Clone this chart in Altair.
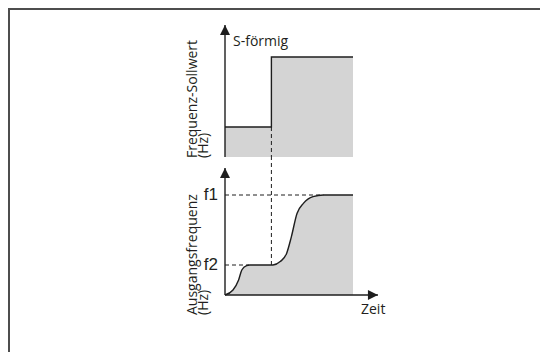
import altair as alt
import pandas as pd

# ---------------- data ----------------
# Top panel: frequency setpoint (step)
soll_t = [0, 2.9, 8]
soll_hz = [15, 50, 50]

# Bottom panel: output frequency (S-shaped acceleration)
out_t = [0, 0.5, 0.85, 1.05, 1.35, 1.55, 3.0, 3.45, 3.85, 4.15, 4.5, 4.9, 5.5, 6.15, 8]
out_hz = [0, 2.5, 7.5, 12.5, 14.7, 15, 15, 16.7, 20.8, 29.2, 40.8, 45.8, 49.2, 50, 50]

f1 = 50
f2 = 15
t_step = 2.9
t_f1 = 6.15
t_f2 = 1.5
t_axis_end = 9.56
top_axis_max = 66
bot_axis_max = 63.5
bot_panel_top = 69

GRAY = "#d4d4d4"
INK = "#1e1e1e"
TXT = "#231f20"
FONT = "Open Sans"

X = alt.Scale(domain=[0, 8], range=[217, 345])
YT = alt.Scale(domain=[0, 50], range=[149, 49])
YB = alt.Scale(domain=[0, 50], range=[287, 187])


def xq(field="t"):
    return alt.X(f"{field}:Q", scale=X, axis=None)


def yq(field, sc):
    return alt.Y(f"{field}:Q", scale=sc, axis=None, stack=None)


df_soll = pd.DataFrame({"t": soll_t, "hz": soll_hz})
df_out = pd.DataFrame({"t": out_t, "hz": out_hz})

# fills
top_area = alt.Chart(df_soll).mark_area(interpolate="step-after", color=GRAY).encode(
    x=xq(), y=yq("hz", YT))
bot_area = alt.Chart(df_out).mark_area(interpolate="monotone", color=GRAY).encode(
    x=xq(), y=yq("hz", YB))

dash = [4, 3]
# dashed guides
top_vdash = alt.Chart(pd.DataFrame({"t": [t_step], "a": [f2], "b": [0]})).mark_rule(
    color=INK, strokeWidth=1, strokeDash=dash).encode(x=xq(), y=yq("a", YT), y2="b:Q")
bot_vdash = alt.Chart(pd.DataFrame({"t": [t_step], "a": [f2], "b": [bot_panel_top]})).mark_rule(
    color=INK, strokeWidth=1, strokeDash=dash).encode(x=xq(), y=yq("a", YB), y2="b:Q")
hdash = alt.Chart(pd.DataFrame({"t0": [0, 0], "t1": [t_f1, t_f2], "hz": [f1, f2]})).mark_rule(
    color=INK, strokeWidth=1, strokeDash=dash).encode(x=xq("t0"), x2="t1:Q", y=yq("hz", YB))

# curves
top_line = alt.Chart(df_soll).mark_line(interpolate="step-after", color=INK, strokeWidth=1.4).encode(
    x=xq(), y=yq("hz", YT))
bot_line = alt.Chart(df_out).mark_line(interpolate="monotone", color=INK, strokeWidth=1.4).encode(
    x=xq(), y=yq("hz", YB))

# axes with arrows
top_axis = alt.Chart(pd.DataFrame({"t": [0], "a": [0], "b": [top_axis_max]})).mark_rule(
    color=INK, strokeWidth=1.4).encode(x=xq(), y=yq("a", YT), y2="b:Q")
bot_axis = alt.Chart(pd.DataFrame({"t": [0], "a": [0], "b": [bot_axis_max]})).mark_rule(
    color=INK, strokeWidth=1.4).encode(x=xq(), y=yq("a", YB), y2="b:Q")
time_axis = alt.Chart(pd.DataFrame({"t0": [0], "t1": [t_axis_end], "hz": [0]})).mark_rule(
    color=INK, strokeWidth=1.4).encode(x=xq("t0"), x2="t1:Q", y=yq("hz", YB))

UP = "M0,0L0.5,1L-0.5,1Z"
RIGHT = "M0,0L-1,-0.5L-1,0.5Z"
top_head = alt.Chart(pd.DataFrame({"t": [0], "hz": [top_axis_max]})).mark_point(
    shape=UP, filled=True, color=INK, opacity=1, size=400, strokeWidth=0).encode(x=xq(), y=yq("hz", YT))
bot_head = alt.Chart(pd.DataFrame({"t": [0], "hz": [bot_axis_max]})).mark_point(
    shape=UP, filled=True, color=INK, opacity=1, size=400, strokeWidth=0).encode(x=xq(), y=yq("hz", YB))
time_head = alt.Chart(pd.DataFrame({"t": [t_axis_end], "hz": [0]})).mark_point(
    shape=RIGHT, filled=True, color=INK, opacity=1, size=400, strokeWidth=0).encode(x=xq(), y=yq("hz", YB))

# texts
s_label = alt.Chart(pd.DataFrame({"t": [0.5], "hz": [57.5], "txt": ["S-förmig"]})).mark_text(
    align="left", baseline="middle", font=FONT, fontSize=14, color=TXT).encode(
    x=xq(), y=yq("hz", YT), text="txt:N")
zeit_label = alt.Chart(pd.DataFrame({"t": [8.5], "hz": [-7.5], "txt": ["Zeit"]})).mark_text(
    align="left", baseline="middle", font=FONT, fontSize=14, color=TXT).encode(
    x=xq(), y=yq("hz", YB), text="txt:N")
f_labels = alt.Chart(pd.DataFrame({"t": [-0.44, -0.44], "hz": [f1, f2], "txt": ["f1", "f2"]})).mark_text(
    align="right", baseline="middle", font="Liberation Sans", fontSize=17, color=TXT).encode(
    x=xq(), y=yq("hz", YB), text="txt:N")
top_ylabel = alt.Chart(pd.DataFrame({"t": [-2.02, -1.32], "hz": [-0.5, -0.5],
                                     "txt": ["Frequenz-Sollwert", "(Hz)"]})).mark_text(
    align="left", baseline="middle", angle=270, font=FONT, fontSize=14, color=TXT).encode(
    x=xq(), y=yq("hz", YT), text="txt:N")
bot_ylabel = alt.Chart(pd.DataFrame({"t": [-2.02, -1.32], "hz": [-10, -10],
                                     "txt": ["Ausgangsfrequenz", "(Hz)"]})).mark_text(
    align="left", baseline="middle", angle=270, font=FONT, fontSize=14, color=TXT).encode(
    x=xq(), y=yq("hz", YB), text="txt:N")

# frame (left and top edges only)
frame_left = alt.Chart(pd.DataFrame({"k": [0]})).mark_rule(color="#4d4d4d", strokeWidth=2).encode(
    x=alt.value(1), y=alt.value(0), y2=alt.value(344))
frame_top = alt.Chart(pd.DataFrame({"k": [0]})).mark_rule(color="#4d4d4d", strokeWidth=2).encode(
    x=alt.value(0), x2=alt.value(532), y=alt.value(1))

chart = alt.layer(
    top_area, bot_area,
    top_vdash, bot_vdash, hdash,
    top_line, bot_line,
    top_axis, bot_axis, time_axis,
    top_head, bot_head, time_head,
    s_label, zeit_label, f_labels, top_ylabel, bot_ylabel,
    frame_left, frame_top,
).resolve_scale(y="independent").properties(
    width=532, height=344, autosize=alt.AutoSizeParams(type="none"), padding=0
).configure_view(stroke=None)

chart.save("out.html", embed_options={"renderer": "svg", "actions": False})
